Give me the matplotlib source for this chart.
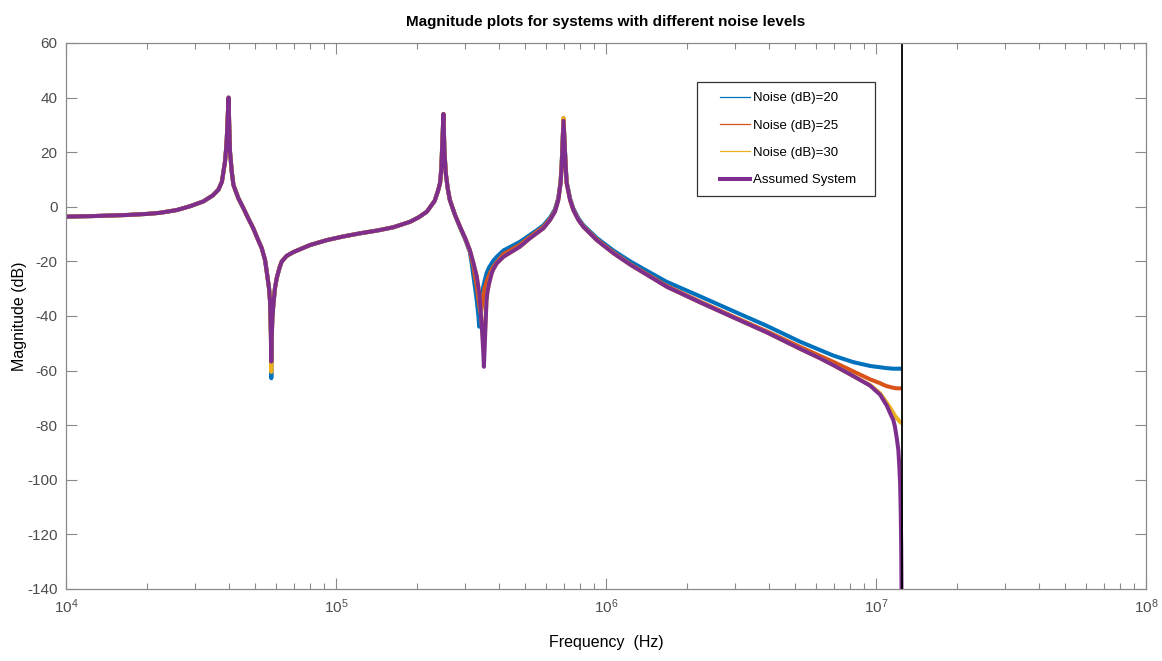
import numpy as np
import matplotlib
matplotlib.use("Agg")
import matplotlib.pyplot as plt
from matplotlib.lines import Line2D
from matplotlib.patches import Rectangle
from matplotlib.ticker import LogLocator, NullFormatter

plt.rcParams['font.family'] = ['Liberation Sans', 'DejaVu Sans']
plt.rcParams['axes.unicode_minus'] = False
plt.rcParams['mathtext.default'] = 'regular'

# ---------------- data ----------------
freq_hz = [
    # low band up to first resonance (18)
    1.0e4, 1.26e4, 1.68e4, 2.0e4, 2.23e4, 2.57e4, 2.88e4, 3.23e4, 3.50e4, 3.67e4,
    3.78e4, 3.83e4, 3.88e4, 3.91e4, 3.94e4, 3.96e4, 3.98e4, 4.0e4,
    # first resonance -> first antiresonance (24)
    4.02e4, 4.05e4, 4.11e4, 4.17e4, 4.35e4, 4.54e4, 4.73e4, 4.94e4, 5.15e4, 5.31e4,
    5.46e4, 5.54e4, 5.65e4, 5.70e4, 5.72e4, 5.74e4, 5.76e4, 5.785e4, 5.81e4, 5.86e4,
    5.94e4, 6.03e4, 6.17e4, 6.29e4,
    # rise to second resonance (17)
    6.56e4, 6.95e4, 8.02e4, 9.25e4, 1.06e5, 1.23e5, 1.42e5, 1.63e5, 1.88e5, 2.02e5,
    2.17e5, 2.26e5, 2.32e5, 2.39e5, 2.43e5, 2.455e5, 2.47e5,
    # second resonance top (5)
    2.485e5, 2.50e5, 2.52e5, 2.55e5, 2.595e5,
    # second antiresonance (23)
    2.64e5, 2.76e5, 2.88e5, 3.01e5, 3.13e5, 3.18e5, 3.23e5, 3.27e5, 3.32e5, 3.37e5,
    3.39e5, 3.41e5, 3.44e5, 3.48e5, 3.51e5, 3.53e5, 3.55e5, 3.57e5, 3.61e5, 3.64e5,
    3.69e5, 3.77e5, 3.82e5,
    # third resonance (23)
    3.94e5, 4.17e5, 4.80e5, 5.23e5, 5.54e5, 5.86e5, 6.21e5, 6.47e5, 6.66e5, 6.79e5,
    6.85e5, 6.90e5, 6.96e5, 7.03e5, 7.09e5, 7.15e5, 7.36e5, 7.57e5, 7.90e5, 8.24e5,
    9.24e5, 1.065e6, 1.23e6,
    # roll-off to Nyquist (24)
    1.45e6, 1.68e6, 2.23e6, 2.96e6, 3.94e6, 5.23e6, 6.21e6, 6.95e6, 8.24e6, 9.51e6,
    1.035e7, 1.065e7, 1.096e7, 1.127e7, 1.159e7, 1.175e7, 1.195e7, 1.21e7, 1.22e7, 1.228e7,
    1.235e7, 1.24e7, 1.245e7, 1.25e7,
]

mag_noise20 = [
    -3.6, -3.4, -3.0, -2.6, -2.2, -1.2, 0.2, 2.0, 4.2, 6.3,
    9.2, 12.9, 16.5, 20.2, 25.0, 30.0, 35.5, 40.0,
    31.0, 20.2, 12.9, 8.0, 3.1, -0.5, -4.2, -7.9, -12.2, -15.2,
    -19.5, -23.8, -29.9, -34.8, -40.8, -47.0, -62.8, -47.0, -40.8, -36.0,
    -29.9, -26.2, -22.5, -20.1,
    -18.0, -16.6, -14.0, -12.2, -10.9, -9.7, -8.7, -7.5, -5.5, -3.9,
    -1.8, 0.6, 2.2, 6.0, 8.8, 14.0, 20.8,
    27.0, 34.0, 20.8, 12.3, 6.5,
    2.5, -3.1, -7.6, -12.0, -16.5, -20.7, -25.5, -29.0, -34.1, -40.2,
    -43.9, -39.0, -36.5, -32.0, -29.3, -28.2, -27.2, -26.3, -24.4, -23.5,
    -22.2, -20.7, -19.8,
    -18.3, -16.0, -12.8, -10.3, -8.6, -6.8, -3.9, -0.9, 3.3, 9.4,
    15.4, 22.6, 32.0, 22.6, 15.3, 9.2, 3.1, -0.6, -4.2, -6.7,
    -11.4, -16.0, -20.0,
    -24.0, -27.5, -32.8, -38.2, -43.6, -49.4, -52.5, -54.5, -56.9, -58.3,
    -58.8, -59.0, -59.1, -59.2, -59.3, -59.3, -59.3, -59.3, -59.3, -59.3,
    -59.3, -59.3, -59.3, -59.3,
]

mag_noise25 = [
    -3.6, -3.4, -3.0, -2.6, -2.2, -1.2, 0.2, 2.0, 4.2, 6.3,
    9.2, 12.9, 16.5, 20.2, 25.0, 30.0, 35.5, 40.0,
    31.0, 20.2, 12.9, 8.0, 3.1, -0.5, -4.2, -7.9, -12.2, -15.2,
    -19.5, -23.8, -29.9, -34.8, -40.8, -47.0, -57.5, -47.0, -40.8, -36.0,
    -29.9, -26.2, -22.5, -20.1,
    -18.0, -16.6, -14.0, -12.2, -10.9, -9.7, -8.7, -7.5, -5.5, -3.9,
    -1.8, 0.6, 2.2, 6.0, 8.8, 14.0, 20.8,
    27.0, 34.0, 20.8, 12.3, 6.5,
    2.5, -3.0, -7.4, -11.7, -16.1, -19.2, -22.0, -25.5, -29.0, -34.1,
    -36.0, -37.5, -39.0, -36.0, -34.1, -31.5, -30.0, -29.0, -27.5, -26.5,
    -25.0, -23.0, -22.0,
    -20.3, -17.3, -13.9, -11.0, -9.2, -7.4, -4.4, -1.4, 2.9, 9.0,
    15.0, 22.4, 32.5, 22.3, 14.9, 8.8, 2.7, -1.0, -4.6, -7.1,
    -11.9, -16.7, -21.0,
    -25.2, -29.0, -34.7, -40.2, -45.6, -51.3, -54.6, -56.8, -60.3, -63.2,
    -64.6, -65.2, -65.7, -66.0, -66.3, -66.4, -66.5, -66.5, -66.5, -66.5,
    -66.5, -66.5, -66.5, -66.5,
]

mag_noise30 = [
    -3.6, -3.4, -3.0, -2.6, -2.2, -1.2, 0.2, 2.0, 4.2, 6.3,
    9.2, 12.9, 16.5, 20.2, 25.0, 30.0, 35.5, 40.0,
    31.0, 20.2, 12.9, 8.0, 3.1, -0.5, -4.2, -7.9, -12.2, -15.2,
    -19.5, -23.8, -29.9, -34.8, -40.8, -47.0, -60.5, -47.0, -40.8, -36.0,
    -29.9, -26.2, -22.5, -20.1,
    -18.0, -16.6, -14.0, -12.2, -10.9, -9.7, -8.7, -7.5, -5.5, -3.9,
    -1.8, 0.6, 2.2, 6.0, 8.8, 14.0, 20.8,
    27.0, 34.0, 20.8, 12.3, 6.5,
    2.5, -3.0, -7.3, -11.5, -15.8, -18.2, -20.7, -22.8, -25.5, -29.8,
    -31.5, -34.1, -39.5, -45.0, -50.0, -53.0, -49.0, -44.0, -34.1, -31.0,
    -28.0, -24.4, -23.0,
    -20.7, -18.3, -14.6, -11.5, -9.7, -7.9, -4.8, -1.8, 2.5, 8.6,
    14.7, 22.2, 32.5, 22.2, 14.7, 8.6, 2.5, -1.2, -4.8, -7.3,
    -12.2, -17.0, -21.2,
    -25.5, -29.3, -35.0, -40.5, -46.0, -52.0, -55.5, -58.0, -62.0, -65.3,
    -68.3, -70.0, -71.8, -73.5, -75.5, -76.5, -77.5, -78.0, -78.5, -78.8,
    -79.0, -79.1, -79.2, -79.3,
]

mag_assumed = [
    -3.6, -3.4, -3.0, -2.6, -2.2, -1.2, 0.2, 2.0, 4.2, 6.3,
    9.2, 12.9, 16.5, 20.2, 25.0, 30.0, 35.5, 40.0,
    31.0, 20.2, 12.9, 8.0, 3.1, -0.5, -4.2, -7.9, -12.2, -15.2,
    -19.5, -23.8, -29.9, -34.8, -40.8, -47.0, -56.7, -47.0, -40.8, -36.0,
    -29.9, -26.2, -22.5, -20.1,
    -18.0, -16.6, -14.0, -12.2, -10.9, -9.7, -8.7, -7.5, -5.5, -3.9,
    -1.8, 0.6, 2.2, 6.0, 8.8, 14.0, 20.8,
    27.0, 34.0, 20.8, 12.3, 6.5,
    2.5, -3.0, -7.3, -11.5, -15.8, -18.2, -20.7, -22.8, -25.5, -29.8,
    -31.5, -34.1, -39.5, -46.3, -53.0, -58.6, -52.0, -46.3, -34.1, -31.0,
    -28.0, -24.4, -23.0,
    -20.7, -18.3, -14.6, -11.5, -9.7, -7.9, -4.8, -1.8, 2.5, 8.6,
    14.7, 22.0, 31.5, 22.0, 14.7, 8.6, 2.5, -1.2, -4.8, -7.3,
    -12.2, -17.0, -21.2,
    -25.5, -29.3, -35.0, -40.5, -46.0, -52.0, -55.5, -58.0, -62.0, -65.5,
    -68.8, -70.8, -72.8, -75.5, -78.1, -80.5, -85.0, -89.1, -95.0, -101.0,
    -112.0, -125.0, -150.0, -300.0,
]

series_labels = ['Noise (dB)=20', 'Noise (dB)=25', 'Noise (dB)=30', 'Assumed System']
nyquist_hz = 1.25e7
x_limits = [1e4, 1e8]
y_limits = [-140, 60]
y_ticks = list(range(-140, 61, 20))

title_text = 'Magnitude plots for systems with different noise levels'
xlabel_text = 'Frequency  (Hz)'
ylabel_text = 'Magnitude (dB)'

# ---------------- drawing ----------------
colors = ['#0072BD', '#D95319', '#EDB120', '#7E2F8E']
series = [mag_noise20, mag_noise25, mag_noise30, mag_assumed]
for s in series:
    assert len(s) == len(freq_hz), (len(s), len(freq_hz))

W, H = 1162, 661
fig = plt.figure(figsize=(W / 100, H / 100), dpi=100)
ax = fig.add_axes([66 / W, 1 - 589 / H, 1080 / W, 546 / H])

for mags, col in zip(series, colors):
    ax.plot(freq_hz, mags, color=col, lw=2.9, solid_capstyle='butt', solid_joinstyle='round')

ax.axvline(nyquist_hz, color='black', lw=1.3)

ax.set_xscale('log')
ax.set_xlim(x_limits)
ax.set_ylim(y_limits)
ax.set_yticks(y_ticks)
ax.xaxis.set_major_locator(LogLocator(base=10, numticks=10))
ax.xaxis.set_minor_locator(LogLocator(base=10, subs=np.arange(2, 10), numticks=20))
ax.xaxis.set_minor_formatter(NullFormatter())

axis_gray = '#8a8a8a'
label_gray = '#4d4d4d'
for sp in ax.spines.values():
    sp.set_color(axis_gray)
    sp.set_linewidth(0.9)
ax.tick_params(which='both', direction='in', top=True, right=True, color=axis_gray,
               labelcolor=label_gray, labelsize=11, width=0.8)
ax.tick_params(which='major', length=8)
ax.tick_params(which='minor', length=4.5)
ax.tick_params(axis='x', which='major', pad=6)
ax.tick_params(axis='y', which='major', pad=6)

ax.set_title(title_text, fontsize=11, fontweight='bold', pad=12)
ax.set_xlabel(xlabel_text, fontsize=11.5, labelpad=14)
ax.set_ylabel(ylabel_text, fontsize=11.5)
ax.yaxis.set_label_coords(-0.036, 0.5)

# legend: frame drawn as a rectangle, entries without frame
lx0, lx1 = (697 - 66) / 1080, (875 - 66) / 1080
ly1, ly0 = 1 - (82 - 43) / 546, 1 - (196 - 43) / 546
ax.add_patch(Rectangle((lx0, ly0), lx1 - lx0, ly1 - ly0, transform=ax.transAxes,
                       facecolor='white', edgecolor='#333333', lw=0.9, zorder=4))
handles = [Line2D([0], [0], color=colors[0], lw=0.9),
           Line2D([0], [0], color=colors[1], lw=0.9),
           Line2D([0], [0], color=colors[2], lw=0.9),
           Line2D([0], [0], color=colors[3], lw=2.9)]
leg = ax.legend(handles, series_labels, loc='upper left',
                bbox_to_anchor=((720 - 66) / 1080, 1 - (92 - 43) / 546),
                borderaxespad=0, fontsize=9.5, frameon=False,
                handlelength=2.27, handletextpad=0.23,
                labelspacing=1.15, borderpad=0)
leg.set_zorder(5)

fig.savefig('out.png', dpi=100, facecolor='white')
